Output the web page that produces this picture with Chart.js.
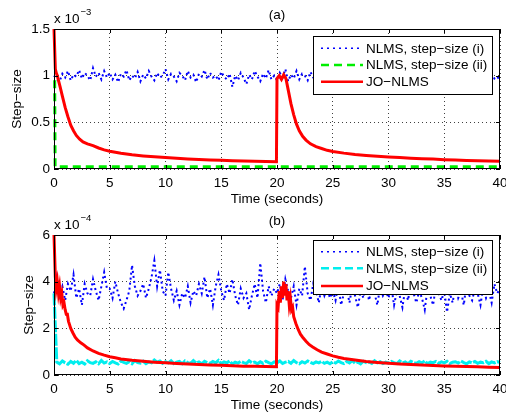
<!DOCTYPE html>
<html>
<head>
<meta charset="utf-8">
<script src="https://cdn.jsdelivr.net/npm/chart.js@4.4.1/dist/chart.umd.min.js"></script>
<style>
  body { margin: 0; background: #fff; }
  .panel { position: relative; width: 506px; height: 206px; }
</style>
</head>
<body>
<div class="panel"><canvas id="chartA" width="506" height="206"></canvas></div>
<div class="panel"><canvas id="chartB" width="506" height="206"></canvas></div>
<script>
// sample spacing of the noisy NLMS step-size traces (seconds)
const noiseStep = 0.25;

// panel (a), values in units of 1e-3
const blueStepA = [
  1.00, 0.96, 0.94, 1.02, 0.98, 1.05, 0.95, 1.01, 0.99, 1.06, 0.97, 1.03, 1.00, 0.95, 1.08, 0.99, 1.03, 0.96, 1.05, 0.98,
  1.03, 0.96, 1.01, 0.93, 1.02, 0.99, 1.06, 0.95, 1.00, 0.97, 1.04, 0.94, 1.01, 0.97, 1.05, 0.99, 0.95, 1.03, 0.98, 1.00,
  1.07, 0.96, 1.02, 0.99, 0.94, 1.03, 1.00, 0.95, 1.05, 0.98, 1.01, 0.93, 1.02, 0.99, 1.06, 0.96, 1.03, 0.98, 1.00, 0.95,
  1.04, 0.99, 0.96, 1.02, 0.88, 1.00, 0.95, 1.03, 0.98, 0.91, 1.01, 0.96, 1.05, 0.99, 0.94, 1.02, 0.97, 1.06, 0.96, 1.00,
  0.95, 1.03, 0.98, 1.07, 0.94, 1.01, 0.97, 1.05, 0.96, 1.02, 1.00, 0.95, 1.04, 0.98, 0.94, 1.02, 0.97, 1.05, 0.96, 1.01,
  0.98, 1.04, 0.95, 1.02, 0.99, 1.06, 0.96, 1.01, 0.97, 1.03, 0.94, 1.00, 1.05, 0.97, 1.02, 0.95, 1.04, 0.99, 0.96, 1.03,
  1.00, 0.95, 1.04, 0.98, 1.02, 0.94, 1.06, 0.99, 0.96, 1.03, 0.97, 1.01, 0.95, 1.05, 0.98, 1.02, 0.96, 1.04, 0.99, 0.97,
  1.03, 0.96, 1.01, 0.98, 1.05, 0.95, 1.02, 0.99, 0.94, 1.04, 0.97, 1.01, 0.96, 1.03, 0.98, 1.00, 0.95, 1.02, 0.97, 0.99,
  0.95
];
const greenTimesA = [0.06, 0.1, 40];
const greenStepA = [0.95, 0.025, 0.025];
const redTimesA = [0, 0.08, 0.12, 0.2, 0.3, 0.4, 0.55, 0.75, 1.0, 1.25, 1.5, 1.75, 2.0, 2.3, 2.6, 3.0, 3.5, 4.0, 4.5, 5.0,
  6, 7, 8, 9, 10, 11, 12, 13, 14, 15, 16, 17, 18, 19, 19.95,
  20.0, 20.2, 20.4, 20.6, 20.8, 21.0, 21.25, 21.5, 21.75, 22.0, 22.3, 22.6, 23.0, 23.5, 24.0, 24.5, 25,
  26, 27, 28, 29, 30, 31, 32, 33, 34, 35, 36, 37, 38, 39, 40];
const redStepA = [1.5, 1.5, 1.07, 1.03, 1.0, 0.95, 0.88, 0.78, 0.66, 0.56, 0.47, 0.41, 0.36, 0.32, 0.29, 0.27, 0.25, 0.225, 0.205, 0.19,
  0.168, 0.152, 0.14, 0.13, 0.122, 0.115, 0.108, 0.102, 0.097, 0.093, 0.089, 0.086, 0.083, 0.08, 0.078,
  0.97, 1.0, 0.96, 1.01, 0.97, 0.85, 0.70, 0.58, 0.48, 0.41, 0.35, 0.31, 0.27, 0.24, 0.22, 0.20, 0.187,
  0.17, 0.156, 0.145, 0.136, 0.128, 0.122, 0.116, 0.111, 0.106, 0.10, 0.096, 0.092, 0.089, 0.086, 0.083];

// panel (b), values in units of 1e-4
const blueStepB = [
  3.5, 4.2, 3.4, 3.8, 3.2, 3.9, 3.6, 4.3, 3.3, 3.7, 3.0, 3.9, 3.5, 3.4, 4.1, 3.6, 3.2, 3.8, 4.4, 3.7,
  3.7, 3.3, 4.0, 3.5, 3.1, 2.85, 3.2, 3.6, 4.7, 3.8, 3.4, 3.6, 3.9, 3.3, 3.7, 4.2, 4.9, 3.8, 4.5, 3.6,
  3.4, 4.4, 3.7, 3.2, 3.6, 3.0, 3.5, 3.3, 3.8, 3.1, 3.6, 3.4, 3.9, 3.5, 4.2, 3.3, 3.7, 3.0, 3.8, 4.3,
  3.6, 3.2, 3.9, 3.5, 4.1, 3.4, 3.0, 3.7, 3.3, 3.5, 2.8, 3.4, 3.9, 3.3, 4.8, 3.6, 3.1, 3.8, 3.4, 3.7,
  3.5, 3.9, 3.2, 4.1, 3.6, 3.3, 3.8, 3.0, 3.7, 3.4, 4.65, 3.5, 3.2, 3.9, 3.6, 3.1, 3.8, 3.4, 3.7, 3.3,
  3.6, 3.2, 3.9, 3.0, 3.5, 3.7, 3.1, 3.8, 3.4, 2.9, 3.6, 3.3, 3.9, 3.2, 3.7, 3.5, 3.0, 3.8, 3.4, 3.6,
  3.3, 3.8, 3.0, 3.6, 3.4, 2.9, 3.7, 3.2, 3.9, 3.5, 3.1, 3.6, 3.3, 2.8, 3.7, 3.4, 3.0, 3.8, 3.5, 3.2,
  3.6, 2.7, 3.5, 3.1, 3.8, 3.3, 3.6, 3.0, 3.9, 3.4, 3.2, 3.7, 3.5, 3.0, 3.8, 3.3, 3.6, 3.1, 3.9, 3.5,
  3.7
];
const cyanStepB = [
  3.5, 0.55, 0.48, 0.60, 0.52, 0.46, 0.58, 0.50, 0.63, 0.49, 0.55, 0.47, 0.61, 0.53, 0.50, 0.57, 0.48, 0.62, 0.51, 0.56,
  0.49, 0.58, 0.52, 0.47, 0.60, 0.54, 0.50, 0.57, 0.48, 0.62, 0.53, 0.51, 0.59, 0.49, 0.56, 0.52, 0.64, 0.55, 0.60, 0.50,
  0.57, 0.52, 0.61, 0.49, 0.55, 0.58, 0.48, 0.60, 0.53, 0.50, 0.62, 0.51, 0.56, 0.48, 0.59, 0.53, 0.50, 0.58, 0.52, 0.63,
  0.49, 0.56, 0.52, 0.60, 0.47, 0.55, 0.51, 0.58, 0.53, 0.49, 0.61, 0.52, 0.55, 0.48, 0.57, 0.50, 0.59, 0.53, 0.48, 0.56,
  0.52, 0.60, 0.49, 0.55, 0.58, 0.50, 0.62, 0.53, 0.48, 0.57, 0.51, 0.60, 0.54, 0.49, 0.56, 0.52, 0.59, 0.50, 0.55, 0.48,
  0.57, 0.51, 0.60, 0.53, 0.49, 0.58, 0.52, 0.62, 0.50, 0.55, 0.48, 0.59, 0.53, 0.56, 0.50, 0.61, 0.52, 0.57, 0.49, 0.55,
  0.51, 0.58, 0.53, 0.49, 0.60, 0.52, 0.56, 0.48, 0.59, 0.54, 0.50, 0.57, 0.52, 0.61, 0.49, 0.55, 0.53, 0.58, 0.50, 0.56,
  0.52, 0.59, 0.49, 0.55, 0.57, 0.51, 0.60, 0.53, 0.48, 0.56, 0.52, 0.58, 0.50, 0.55, 0.53, 0.59, 0.49, 0.56, 0.52, 0.57,
  0.54
];
const redTimesB = [0, 0.08, 0.12, 0.2, 0.3, 0.4, 0.5, 0.6, 0.7, 0.8, 0.9, 1.0, 1.1, 1.2, 1.3, 1.4, 1.5, 1.7, 1.9, 2.1, 2.4, 2.7, 3.0,
  3.5, 4.0, 4.5, 5.0, 5.5, 6, 7, 8, 9, 10, 11, 12, 13, 14, 15, 16, 17, 18, 19, 19.95,
  20.0, 20.1, 20.2, 20.3, 20.4, 20.5, 20.6, 20.7, 20.8, 20.9, 21.0, 21.1, 21.2, 21.3, 21.4, 21.5, 21.7, 21.9, 22.1, 22.3,
  22.6, 22.9, 23.2, 23.6, 24.0, 24.5, 25, 25.5, 26, 27, 28, 29, 30, 31, 32, 33, 34, 35, 36, 37, 38, 39, 40];
const redStepB = [6.0, 6.0, 4.2, 3.7, 4.0, 3.5, 3.8, 3.3, 3.5, 3.0, 3.1, 2.8, 2.6, 2.6, 2.3, 2.15, 2.0, 1.8, 1.62, 1.5, 1.38, 1.28, 1.16,
  1.03, 0.93, 0.85, 0.78, 0.74, 0.69, 0.63, 0.59, 0.55, 0.52, 0.49, 0.47, 0.45, 0.43, 0.42, 0.40, 0.38, 0.37, 0.36, 0.35,
  3.0, 2.9, 3.6, 3.1, 3.8, 3.3, 4.0, 3.4, 3.9, 3.2, 3.6, 3.0, 3.3, 2.8, 2.9, 2.5, 2.2, 1.95, 1.75, 1.62,
  1.45, 1.3, 1.2, 1.08, 0.98, 0.9, 0.82, 0.76, 0.71, 0.64, 0.58, 0.54, 0.50, 0.47, 0.45, 0.43, 0.41, 0.39, 0.37, 0.36, 0.35, 0.33, 0.32];

const xTicks = [0, 5, 10, 15, 20, 25, 30, 35, 40];
const yTicksA = [0, 0.5, 1, 1.5];
const yTicksB = [0, 2, 4, 6];
const legendLabels = ["NLMS, step\u2212size (i)", "NLMS, step\u2212size (ii)", "JO\u2212NLMS"];

const FONT = '"Liberation Sans", Arial, Helvetica, sans-serif';

function toPoints(xs, ys) {
  return xs.map((x, i) => ({ x: x, y: ys[i] }));
}
function noisePoints(ys) {
  return ys.map((y, i) => ({ x: i * noiseStep, y: y }));
}

const overlayPlugin = {
  id: "overlay",
  afterDatasetsDraw(chart, args, opts) {
    const ctx = chart.ctx;
    const a = chart.chartArea;
    const xs = chart.scales.x;
    const ys = chart.scales.y;
    ctx.save();
    ctx.strokeStyle = "#000";
    ctx.lineWidth = 1;
    ctx.setLineDash([]);
    // inward tick marks on all four sides
    ctx.beginPath();
    xTicks.forEach((t) => {
      const px = Math.round(xs.getPixelForValue(t)) + 0.5;
      ctx.moveTo(px, a.bottom); ctx.lineTo(px, a.bottom - 4);
      ctx.moveTo(px, a.top); ctx.lineTo(px, a.top + 4);
    });
    opts.yTicks.forEach((t) => {
      const py = Math.round(ys.getPixelForValue(t)) + 0.5;
      ctx.moveTo(a.left, py); ctx.lineTo(a.left + 4, py);
      ctx.moveTo(a.right, py); ctx.lineTo(a.right - 4, py);
    });
    ctx.stroke();
    // axes box
    ctx.strokeRect(a.left + 0.5, a.top + 0.5, a.right - a.left - 1, a.bottom - a.top - 1);

    // panel title and exponent
    ctx.fillStyle = "#000";
    ctx.font = "13.5px " + FONT;
    ctx.textAlign = "center";
    ctx.textBaseline = "middle";
    ctx.fillText(opts.title, (a.left + a.right) / 2, 15);
    ctx.textAlign = "left";
    ctx.textBaseline = "alphabetic";
    ctx.fillText("x 10", a.left, 22.5);
    const w = ctx.measureText("x 10").width;
    ctx.font = "9.5px " + FONT;
    ctx.fillText(opts.exponent, a.left + w + 1, 14.5);

    // legend box
    const L = opts.legend;
    ctx.fillStyle = "#fff";
    ctx.fillRect(L.x, L.y, L.w, L.h);
    ctx.strokeStyle = "#000";
    ctx.lineWidth = 1;
    ctx.strokeRect(L.x + 0.5, L.y + 0.5, L.w - 1, L.h - 1);
    ctx.font = "13.5px " + FONT;
    ctx.textBaseline = "middle";
    chart.data.datasets.forEach((ds) => {
      const yy = L.rows[ds.legendRow];
      ctx.save();
      ctx.strokeStyle = ds.borderColor;
      ctx.lineWidth = ds.legendWidth;
      ctx.setLineDash(ds.legendDash || []);
      ctx.beginPath();
      ctx.moveTo(L.x + 8, yy);
      ctx.lineTo(L.x + 50, yy);
      ctx.stroke();
      ctx.restore();
      ctx.fillStyle = "#000";
      ctx.fillText(ds.label, L.x + 53, yy + 0.5);
    });
    ctx.restore();
  }
};

function makeOptions(yMax, yStep, yTicks, title, exponent, legend, yTitlePad) {
  return {
    responsive: false,
    animation: false,
    events: [],
    layout: { padding: { left: 0, right: 6, top: 29, bottom: 0 } },
    plugins: {
      legend: { display: false },
      tooltip: { enabled: false },
      overlay: { title: title, exponent: exponent, legend: legend, yTicks: yTicks }
    },
    scales: {
      x: {
        type: "linear",
        min: 0,
        max: 40,
        afterFit: (s) => { s.height = 37; s.paddingLeft = 0; s.paddingRight = 0; },
        ticks: { stepSize: 5, color: "#000", padding: 6, font: { family: FONT, size: 13.5 }, maxRotation: 0 },
        grid: { color: "rgba(0,0,0,0.75)", lineWidth: 1, drawTicks: false },
        border: { display: false, dash: [1, 3] },
        title: { display: true, text: "Time (seconds)", color: "#000", padding: { top: 0, bottom: 0 }, font: { family: FONT, size: 13.5, lineHeight: 1 } }
      },
      y: {
        min: 0,
        max: yMax,
        afterFit: (s) => { s.width = 54; s.paddingTop = 0; s.paddingBottom = 0; },
        ticks: { stepSize: yStep, color: "#000", padding: 4, font: { family: FONT, size: 13.5 }, callback: (v) => String(v) },
        grid: { color: "rgba(0,0,0,0.75)", lineWidth: 1, drawTicks: false },
        border: { display: false, dash: [1, 3] },
        title: { display: true, text: "Step\u2212size", color: "#000", padding: { top: yTitlePad, bottom: 0 }, font: { family: FONT, size: 13.5 } }
      }
    }
  };
}

const lineBase = { pointRadius: 0, tension: 0, fill: false, spanGaps: true, clip: 2 };

new Chart(document.getElementById("chartA"), {
  type: "line",
  data: {
    datasets: [
      Object.assign({}, lineBase, {
        label: legendLabels[2], data: toPoints(redTimesA, redStepA),
        borderColor: "#ff0000", borderWidth: 3, legendWidth: 2.5, legendRow: 2, order: 0
      }),
      Object.assign({}, lineBase, {
        label: legendLabels[1], data: toPoints(greenTimesA, greenStepA),
        borderColor: "#00ee00", borderWidth: 3, borderDash: [8, 5], legendDash: [8, 5], legendWidth: 2.5, legendRow: 1, order: 1
      }),
      Object.assign({}, lineBase, {
        label: legendLabels[0], data: noisePoints(blueStepA),
        borderColor: "#0000ff", borderWidth: 2, borderDash: [2, 3], legendDash: [2, 4], legendWidth: 1.5, legendRow: 0, order: 2
      })
    ]
  },
  options: makeOptions(1.5, 0.5, yTicksA, "(a)", "\u22123",
    { x: 313, y: 36, w: 180, h: 59, rows: [48.3, 65, 81.7] }, 9),
  plugins: [overlayPlugin]
});

new Chart(document.getElementById("chartB"), {
  type: "line",
  data: {
    datasets: [
      Object.assign({}, lineBase, {
        label: legendLabels[2], data: toPoints(redTimesB, redStepB),
        borderColor: "#ff0000", borderWidth: 3, legendWidth: 2.5, legendRow: 2, order: 0
      }),
      Object.assign({}, lineBase, {
        label: legendLabels[1], data: noisePoints(cyanStepB),
        borderColor: "#00eeee", borderWidth: 3, borderDash: [12, 1.5], legendDash: [8, 4], legendWidth: 2.5, legendRow: 1, order: 1
      }),
      Object.assign({}, lineBase, {
        label: legendLabels[0], data: noisePoints(blueStepB),
        borderColor: "#0000ff", borderWidth: 2, borderDash: [2, 3], legendDash: [2, 4], legendWidth: 1.5, legendRow: 0, order: 2
      })
    ]
  },
  options: makeOptions(6, 2, yTicksB, "(b)", "\u22124",
    { x: 313, y: 34, w: 180, h: 55, rows: [45.7, 62.3, 80] }, 21),
  plugins: [overlayPlugin]
});
</script>
</body>
</html>
